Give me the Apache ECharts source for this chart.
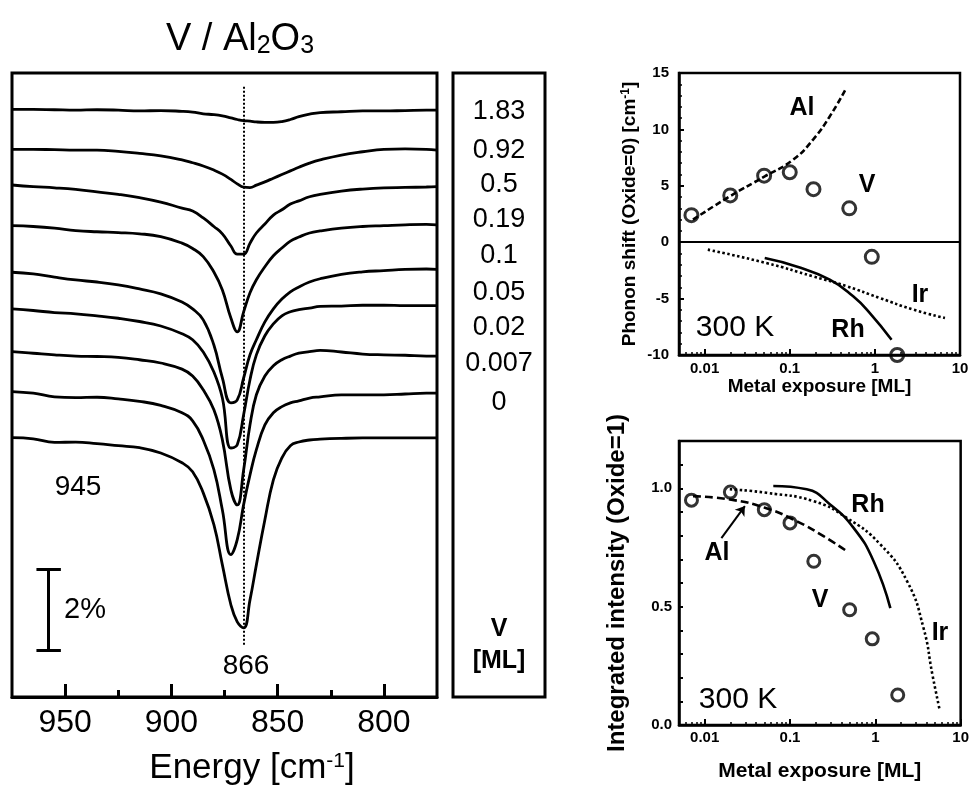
<!DOCTYPE html>
<html><head><meta charset="utf-8">
<script src="https://cdn.jsdelivr.net/npm/echarts@6/dist/echarts.min.js"></script>
<style>html,body{margin:0;padding:0;background:#fff}#c{width:972px;height:789px}</style>
</head><body><div id="c"></div>
<script>
// ===== Left panel: IR spectra of V / Al2O3 =====
const energies = [975,965,955,945,935,925,915,905,895,890,885,880,876,872,869,866,863,860,856,852,848,844,840,835,830,820,810,800,790,780,775];
const coverages = ['1.83','0.92','0.5','0.19','0.1','0.05','0.02','0.007','0'];
// baseline of each trace (in %, stacked)
const offsets = [14.447,13.464,12.587,11.587,10.442,9.541,8.491,7.509,6.378];
// reflectance change (%) relative to each baseline
const spec_1_83 = [0,0,-0.01,-0.02,-0.01,-0.02,-0.04,-0.03,-0.05,-0.07,-0.11,-0.13,-0.16,-0.21,-0.25,-0.28,-0.29,-0.31,-0.32,-0.32,-0.30,-0.25,-0.18,-0.12,-0.08,-0.06,-0.04,-0.04,-0.03,-0.02,-0.02];
const spec_0_92 = [0,0,-0.01,-0.02,-0.02,-0.05,-0.10,-0.16,-0.26,-0.33,-0.41,-0.51,-0.61,-0.74,-0.85,-0.93,-0.94,-0.88,-0.80,-0.71,-0.62,-0.53,-0.44,-0.34,-0.26,-0.14,-0.06,0,0.01,0,-0.02];
const spec_0_5 = [0,-0.04,-0.07,-0.11,-0.17,-0.23,-0.31,-0.42,-0.57,-0.64,-0.81,-1.02,-1.20,-1.50,-1.70,-1.70,-1.43,-1.18,-0.96,-0.74,-0.61,-0.47,-0.39,-0.29,-0.23,-0.15,-0.10,-0.07,-0.06,-0.05,-0.04];
const spec_0_19 = [0,-0.02,-0.06,-0.12,-0.15,-0.17,-0.20,-0.27,-0.43,-0.56,-0.76,-1.14,-1.58,-2.27,-2.61,-2.12,-1.65,-1.33,-1.01,-0.74,-0.55,-0.38,-0.28,-0.18,-0.13,-0.06,-0.02,0,0.02,0.03,0.02];
const spec_0_1 = [0,-0.04,-0.12,-0.19,-0.24,-0.31,-0.41,-0.53,-0.73,-0.90,-1.17,-1.79,-2.60,-3.21,-3.14,-2.60,-2.03,-1.66,-1.22,-0.90,-0.66,-0.48,-0.36,-0.24,-0.16,-0.05,0.01,0.04,0.07,0.08,0.07];
const spec_0_05 = [0,-0.04,-0.09,-0.12,-0.17,-0.23,-0.31,-0.42,-0.61,-0.76,-1.06,-1.55,-2.19,-3.42,-3.34,-2.60,-1.74,-1.13,-0.66,-0.37,-0.17,-0.07,-0.02,0.02,0.06,0.07,0.09,0.09,0.08,0.08,0.08];
const spec_0_02 = [0,-0.04,-0.08,-0.11,-0.12,-0.14,-0.20,-0.28,-0.43,-0.60,-0.94,-1.43,-2.17,-3.40,-3.77,-2.91,-1.80,-1.06,-0.60,-0.35,-0.20,-0.11,-0.04,0,0.03,-0.01,-0.06,-0.08,-0.09,-0.11,-0.11];
const spec_0_007 = [0,-0.04,-0.13,-0.15,-0.14,-0.18,-0.24,-0.34,-0.52,-0.72,-1.19,-1.92,-2.91,-4.01,-3.64,-2.78,-2.05,-1.43,-0.82,-0.52,-0.37,-0.28,-0.23,-0.16,-0.13,-0.08,-0.08,-0.08,-0.06,-0.04,-0.04];
const spec_0 = [0,-0.03,-0.12,-0.11,-0.15,-0.20,-0.25,-0.38,-0.62,-0.84,-1.36,-2.14,-3.13,-4.11,-4.53,-4.68,-3.99,-3.13,-2.02,-1.04,-0.50,-0.20,-0.11,-0.06,-0.04,-0.02,-0.01,-0.01,-0.01,-0.01,-0.01];
const spectra = [spec_1_83,spec_0_92,spec_0_5,spec_0_19,spec_0_1,spec_0_05,spec_0_02,spec_0_007,spec_0];
const energyTicks = [800,850,900,950];
const energyMinorTicks = [825,875,925];

// ===== Right panels: V exposure dependence =====
const exposure = [0.007,0.02,0.05,0.1,0.19,0.5,0.92,1.83];
const vShift = [2.4,4.15,5.9,6.2,4.7,3.0,-1.3,-10.0];
const vIntensity = [0.95,0.984,0.91,0.854,0.692,0.487,0.364,0.127];
const alShiftX = [0.0073,0.0197,0.0508,0.109,0.188,0.295,0.464];
const alShiftY = [2.0,4.06,5.83,7.3,9.1,11.15,13.7];
const irShiftX = [0.0109,0.0532,0.188,0.464,1.145,2.83,6.66];
const irShiftY = [-0.66,-1.85,-3.03,-3.9,-4.95,-5.98,-6.72];
const rhShiftX = [0.0508,0.12,0.295,0.556,0.873,1.57];
const rhShiftY = [-1.4,-2.15,-3.32,-4.8,-6.28,-8.64];
const alIntX = [0.0073,0.0197,0.0508,0.12,0.247,0.464];
const alIntY = [0.967,0.953,0.918,0.861,0.798,0.734];
const irIntX = [0.0197,0.0532,0.188,0.464,1.145,2.36,3.67,4.67,5.67];
const irIntY = [0.996,0.981,0.946,0.875,0.763,0.607,0.41,0.212,0.064];
const rhIntX = [0.0637,0.157,0.295,0.556,0.955,1.5];
const rhIntY = [1.01,0.996,0.932,0.833,0.692,0.494];
const logMinorTicks = [0.006,0.007,0.008,0.009,0.02,0.03,0.04,0.05,0.06,0.07,0.08,0.09,0.2,0.3,0.4,0.5,0.6,0.7,0.8,0.9,2,3,4,5,6,7,8,9];
const intensityTicks = [0,0.1,0.2,0.3,0.4,0.5,0.6,0.7,0.8,0.9,1.0,1.1,1.2];

const FONT = '"Liberation Sans", Arial, Helvetica, sans-serif';
const K = '#000';
const zip = (xs, ys) => xs.map((x, i) => [x, ys[i]]);

const chart = echarts.init(document.getElementById('c'), null, {renderer: 'canvas', width: 972, height: 789});

const LOG_MIN = 0.005, LOG_MAX = 10;
function logAxes(grid, name, gap, nameSize, labelMargin) {
  return [{
    type: 'log', gridIndex: grid, logBase: 10, min: LOG_MIN, max: LOG_MAX, position: 'bottom',
    axisLine: {show: true, onZero: false, lineStyle: {color: K, width: 2.5}},
    axisTick: {show: true, inside: true, length: 6, lineStyle: {color: K, width: 2}},
    axisLabel: {show: true, showMinLabel: false, color: K, fontFamily: FONT, fontWeight: 'bold', fontSize: 15, margin: labelMargin,
      formatter: v => String(+(+v).toPrecision(2))},
    splitLine: {show: false},
    name: name, nameLocation: 'middle', nameGap: gap,
    nameTextStyle: {color: K, fontFamily: FONT, fontWeight: 'bold', fontSize: nameSize}
  }, {
    // minor log ticks: a hidden companion axis in decade (exponent) space
    type: 'value', gridIndex: grid, min: Math.log10(LOG_MIN), max: Math.log10(LOG_MAX), position: 'bottom',
    axisLine: {show: false, onZero: false}, axisLabel: {show: false}, splitLine: {show: false},
    axisTick: {show: true, inside: true, length: 3, lineStyle: {color: K, width: 1.5}, customValues: logMinorTicks.map(Math.log10)}
  }];
}

const spectraSeries = spectra.map((rel, k) => ({
  type: 'line', name: coverages[k], xAxisIndex: 0, yAxisIndex: 0,
  data: energies.map((e, i) => [e, +(offsets[k] + rel[i]).toFixed(3)]),
  showSymbol: false, symbol: 'none', smooth: 0.45,
  lineStyle: {color: K, width: 2.8}, silent: true
}));

const textBase = {fill: K, fontFamily: FONT};
function txt(x, y, text, size, weight, extra) {
  return {type: 'text', x: x, y: y, z: 100, silent: true,
    style: Object.assign({}, textBase, {text: text, fontSize: size, fontWeight: weight || 'normal', align: 'center', verticalAlign: 'middle'}, extra || {})};
}

const legendY = [112, 151, 185, 220, 256, 293, 328, 364, 403];

const option = {
  animation: false,
  backgroundColor: '#fff',
  grid: [
    {left: 12, top: 73, width: 425, height: 624, show: true, borderColor: K, borderWidth: 3, backgroundColor: 'transparent'},
    {left: 679, top: 73, width: 281, height: 282, show: true, borderColor: K, borderWidth: 2.5, backgroundColor: 'transparent'},
    {left: 679, top: 441, width: 282, height: 284, show: true, borderColor: K, borderWidth: 2.5, backgroundColor: 'transparent'}
  ],
  xAxis: [
    {type: 'value', gridIndex: 0, min: 775, max: 975, interval: 25, inverse: true, position: 'bottom',
      axisLine: {show: true, onZero: false, lineStyle: {color: K, width: 3}},
      axisTick: {show: true, inside: true, length: 13, lineStyle: {color: K, width: 3}, customValues: energyTicks},
      axisLabel: {show: true, color: K, fontFamily: FONT, fontSize: 32, margin: 10, customValues: energyTicks,
        formatter: v => (v % 50 === 0 && v > 775 && v < 975) ? String(v) : ''},
      splitLine: {show: false}},
    {type: 'value', gridIndex: 0, min: 775, max: 975, interval: 25, inverse: true, position: 'bottom',
      axisLine: {show: false, onZero: false}, axisLabel: {show: false}, splitLine: {show: false},
      axisTick: {show: true, inside: true, length: 7, lineStyle: {color: K, width: 3}, customValues: energyMinorTicks}},
    ...logAxes(1, 'Metal exposure [ML]', 22, 19, 6),
    ...logAxes(2, 'Metal exposure [ML]', 36, 21, 5)
  ],
  yAxis: [
    {type: 'value', gridIndex: 0, min: 0, max: 15.34, show: false, axisLine: {onZero: false}},
    {type: 'value', gridIndex: 1, min: -10, max: 15, interval: 5, position: 'left',
      axisLine: {show: true, onZero: false, lineStyle: {color: K, width: 2.5}},
      axisTick: {show: true, inside: true, length: 5, lineStyle: {color: K, width: 2}},
      minorTick: {show: true, splitNumber: 5, length: 3, lineStyle: {color: K, width: 1.5}},
      axisLabel: {color: K, fontFamily: FONT, fontWeight: 'bold', fontSize: 15, margin: 10},
      splitLine: {show: false},
      name: '{b|Phonon shift (Oxide=0) [cm}{sup|-1}{b|]}', nameLocation: 'middle', nameGap: 40,
      nameTextStyle: {color: K, fontFamily: FONT, fontWeight: 'bold', fontSize: 19,
        rich: {b: {fontFamily: FONT, fontWeight: 'bold', fontSize: 19, color: K, verticalAlign: 'bottom', lineHeight: 19, padding: [6, 0, 0, 0]},
               sup: {fontFamily: FONT, fontWeight: 'bold', fontSize: 12, color: K, verticalAlign: 'top', lineHeight: 12}}}},
    {type: 'value', gridIndex: 2, min: 0, max: 1.2, interval: 0.5, position: 'left',
      axisLine: {show: true, onZero: false, lineStyle: {color: K, width: 2.5}},
      axisTick: {show: true, inside: true, length: 4, lineStyle: {color: K, width: 2}, customValues: intensityTicks},
      axisLabel: {color: K, fontFamily: FONT, fontWeight: 'bold', fontSize: 15, margin: 7, showMaxLabel: false,
        formatter: v => (+v).toFixed(1)},
      splitLine: {show: false},
      name: 'Integrated intensity (Oxide=1)', nameLocation: 'middle', nameGap: 50,
      nameTextStyle: {color: K, fontFamily: FONT, fontWeight: 'bold', fontSize: 24}}
  ],
  series: [
    ...spectraSeries,
    {type: 'line', xAxisIndex: 0, yAxisIndex: 0, data: [], silent: true,
      markLine: {silent: true, symbol: 'none', label: {show: false}, animation: false,
        data: [
          [{coord: [866, 15.0], lineStyle: {color: K, width: 2, type: [2, 2]}}, {coord: [866, 1.24]}],
          [{coord: [958, 1.145], lineStyle: {color: K, width: 3, type: 'solid'}}, {coord: [958, 3.145]}],
          [{coord: [963.5, 3.145], lineStyle: {color: K, width: 3, type: 'solid'}}, {coord: [952, 3.145]}],
          [{coord: [963.5, 1.145], lineStyle: {color: K, width: 3, type: 'solid'}}, {coord: [952, 1.145]}]
        ]}},
    // phonon shift panel
    {type: 'line', name: 'Al shift', xAxisIndex: 2, yAxisIndex: 1, data: zip(alShiftX, alShiftY), showSymbol: false, symbol: 'none', smooth: true,
      lineStyle: {color: K, width: 2.6, type: [6, 3]},
      markLine: {silent: true, symbol: 'none', label: {show: false}, lineStyle: {color: K, width: 2, type: 'solid'}, data: [{yAxis: 0}]}},
    {type: 'line', name: 'Ir shift', xAxisIndex: 2, yAxisIndex: 1, data: zip(irShiftX, irShiftY), showSymbol: false, symbol: 'none', smooth: true,
      lineStyle: {color: K, width: 2.6, type: [2.5, 2.5]}},
    {type: 'line', name: 'Rh shift', xAxisIndex: 2, yAxisIndex: 1, data: zip(rhShiftX, rhShiftY), showSymbol: false, symbol: 'none', smooth: true,
      lineStyle: {color: K, width: 2.6}},
    {type: 'scatter', name: 'V shift', xAxisIndex: 2, yAxisIndex: 1, data: zip(exposure, vShift), symbol: 'circle', symbolSize: 13, z: 5,
      clip: false, itemStyle: {color: 'rgba(255,255,255,0)', borderColor: K, borderWidth: 3}},
    // integrated intensity panel
    {type: 'line', name: 'Al intensity', xAxisIndex: 4, yAxisIndex: 2, data: zip(alIntX, alIntY), showSymbol: false, symbol: 'none', smooth: true,
      lineStyle: {color: K, width: 2.6, type: [8, 4]},
      markLine: {silent: true, label: {show: false}, symbol: 'none',
        data: [
          [{yAxis: 1.0, x: '0%', lineStyle: {color: K, width: 2, type: 'solid'}}, {yAxis: 1.0}],
          [{coord: [0.0157, 0.79], symbol: 'none', lineStyle: {color: K, width: 2, type: 'solid'}}, {coord: [0.0296, 0.925], symbol: 'arrow', symbolSize: 9}]
        ]}},
    {type: 'line', name: 'Ir intensity', xAxisIndex: 4, yAxisIndex: 2, data: zip(irIntX, irIntY), showSymbol: false, symbol: 'none', smooth: true,
      lineStyle: {color: K, width: 2.6, type: [2.5, 2.5]}},
    {type: 'line', name: 'Rh intensity', xAxisIndex: 4, yAxisIndex: 2, data: zip(rhIntX, rhIntY), showSymbol: false, symbol: 'none', smooth: true,
      lineStyle: {color: K, width: 2.6}},
    {type: 'scatter', name: 'V intensity', xAxisIndex: 4, yAxisIndex: 2, data: zip(exposure, vIntensity), symbol: 'circle', symbolSize: 12, z: 5,
      itemStyle: {color: 'rgba(255,255,255,0)', borderColor: K, borderWidth: 3}}
  ],
  graphic: [
    // title
    {type: 'text', x: 240, y: 40, z: 100, silent: true,
      style: {text: '{b|V / Al}{s|2}{b|O}{s|3}', align: 'center', verticalAlign: 'middle', fill: K, fontFamily: FONT,
        rich: {b: {fontFamily: FONT, fontSize: 38, fill: K, verticalAlign: 'top', lineHeight: 38},
               s: {fontFamily: FONT, fontSize: 25, fill: K, verticalAlign: 'bottom', lineHeight: 25, padding: [20, 0, 0, 0]}}}},
    // energy axis name
    {type: 'text', x: 252, y: 768, z: 100, silent: true,
      style: {text: '{b|Energy [cm}{p|-1}{b|]}', align: 'center', verticalAlign: 'middle', fill: K, fontFamily: FONT,
        rich: {b: {fontFamily: FONT, fontSize: 35, fill: K, verticalAlign: 'bottom', lineHeight: 35, padding: [10, 0, 0, 0]},
               p: {fontFamily: FONT, fontSize: 21, fill: K, verticalAlign: 'top', lineHeight: 21}}}},
    txt(78, 487, '945', 28),
    txt(246, 666, '866', 28),
    txt(64, 610, '2%', 29, 'normal', {align: 'left'}),
    // coverage column
    {type: 'rect', z: 100, silent: true, shape: {x: 453, y: 73, width: 92, height: 624}, style: {fill: 'none', stroke: K, lineWidth: 3}},
    ...coverages.map((c, i) => txt(499, legendY[i], c, 27)),
    txt(499, 629, 'V', 25, 'bold'),
    txt(499, 661, '[ML]', 25, 'bold'),
    // top right annotations
    txt(802, 108, 'Al', 25, 'bold'),
    txt(867, 185, 'V', 25, 'bold'),
    txt(920, 295, 'Ir', 25, 'bold'),
    txt(848, 330, 'Rh', 25, 'bold'),
    txt(735, 328, '300 K', 30),
    // bottom right annotations
    txt(868, 505, 'Rh', 25, 'bold'),
    txt(717, 553, 'Al', 25, 'bold'),
    txt(820, 600, 'V', 25, 'bold'),
    txt(940, 633, 'Ir', 25, 'bold'),
    txt(738, 700, '300 K', 30)
  ]
};
chart.setOption(option);
</script>
</body></html>
